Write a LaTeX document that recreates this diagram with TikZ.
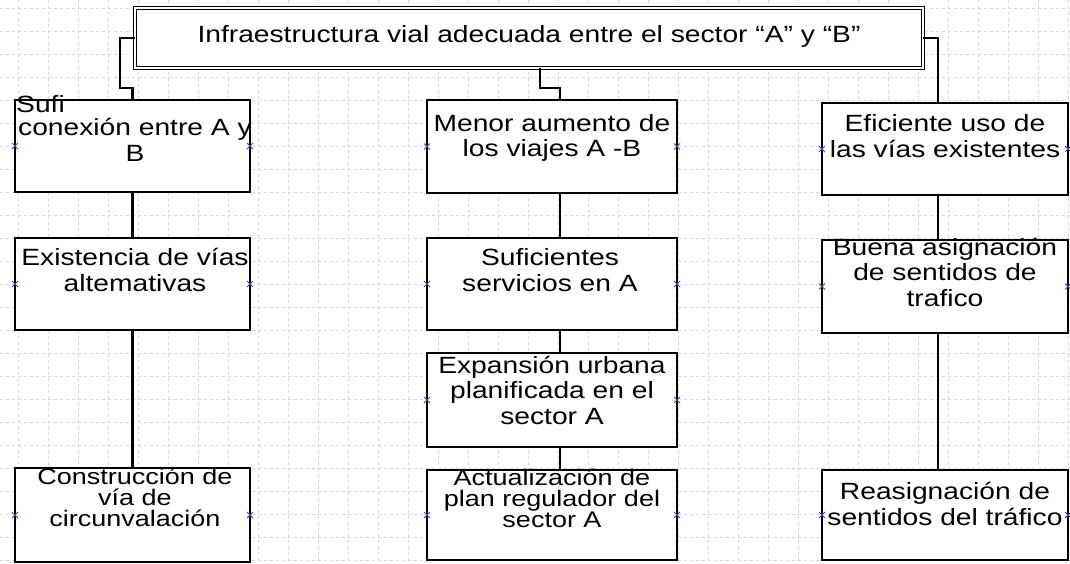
\documentclass[tikz,border=0pt]{standalone}
\usepackage{fontspec}
\setmainfont{Liberation Sans}[FakeStretch=1.2]
\usetikzlibrary{positioning}

\begin{document}
\begin{tikzpicture}[x = 1pt, y = -1pt,
        rejilla/.style = {gray!30, dashed, line width = 0.5pt},
        caja/.style = {draw, fill = white, line width = 2.4pt, inner sep = 0pt, outer sep = 0pt},
        titulo/.style = {caja, line width = 1.3pt, double, double distance = 1.8pt},
        txt/.style = {align = center, inner sep = 0pt, font = \fontsize{23.5}{25.5}\selectfont},
        apretado/.style = {txt, font = \fontsize{22.5}{21}\selectfont},
        enlace/.style = {line width = 2.2pt},
        punto/.style = {blue!45!gray, line width = 0.9pt}]
        \useasboundingbox (0, 0) rectangle (1070, 563);
        % grid of the page
        \foreach \gx in {18, 48, ..., 1068}
            \draw [rejilla] (\gx, 0) -- (\gx, 563);
        \foreach \gy in {8, 31, ..., 560}
            \draw [rejilla] (0, \gy) -- (1070, \gy);

        % boxes
        \node [titulo, minimum width = 788pt, minimum height = 60pt] (top) at (529, 38) {};
        \node [caja, minimum width = 235pt, minimum height = 92pt] (l1) at (132.5, 146) {};
        \node [caja, minimum width = 250pt, minimum height = 93pt] (m1) at (552, 146.5) {};
        \node [caja, minimum width = 246pt, minimum height = 92pt] (r1) at (945, 149) {};
        \node [caja, minimum width = 235pt, minimum height = 92pt] (l2) at (132.5, 284) {};
        \node [caja, minimum width = 250pt, minimum height = 92pt] (m2) at (552, 284) {};
        \node [caja, minimum width = 246pt, minimum height = 93pt] (r2) at (945, 286.5) {};
        \node [caja, minimum width = 250pt, minimum height = 94pt] (m3) at (552, 400) {};
        \node [caja, minimum width = 235pt, minimum height = 94pt] (l3) at (132.5, 515) {};
        \node [caja, minimum width = 250pt, minimum height = 90pt] (m4) at (552, 515) {};
        \node [caja, minimum width = 246pt, minimum height = 90pt] (r3) at (945, 515) {};

        % texts
        \node [txt] (ttop) at (529, 36) {Infraestructura vial adecuada entre el sector “A” y “B”};
        \node [txt, anchor = west] (tl1a) at (16, 104) {Sufi};
        \node [txt] (tl1) at (135, 140) {conexión entre A y\\B};
        \node [txt] (tm1) at (552, 138) {Menor aumento de\\los viajes A -B};
        \node [txt] (tr1) at (945, 136) {Eficiente uso de\\las vías existentes};
        \node [txt] (tl2) at (135, 270) {Existencia de vías\\altemativas};
        \node [txt] (tm2) at (550, 270) {Suficientes\\servicios en A};
        \node [txt] (tr2) at (945, 272) {Buena asignación\\de sentidos de\\trafico};
        \node [txt] (tm3) at (552, 390) {Expansión urbana\\planificada en el\\sector A};
        \node [apretado] (tl3) at (135, 497) {Construcción de\\vía de\\circunvalación};
        \node [apretado] (tm4) at (552, 498) {Actualización de\\plan regulador del\\sector A};
        \node [txt] (tr3) at (945, 504) {Reasignación de\\sentidos del tráfico};

        % connectors
        \draw [enlace] (top.west) -- ++(-15, 0) -- ++(0, 50) -| (l1.north);
        \draw [enlace] ([xshift = 11pt]top.south) -- ++(0, 20) -| ([xshift = 8pt]m1.north);
        \draw [enlace] (top.east) -| ([xshift = -7pt]r1.north);
        \draw [enlace] (l1) -- (l2);
        \draw [enlace] (l2) -- (l3);
        \draw [enlace] ([xshift = 8pt]m1.south) -- ([xshift = 8pt]m2.north);
        \draw [enlace] ([xshift = 8pt]m2.south) -- ([xshift = 8pt]m3.north);
        \draw [enlace] ([xshift = 8pt]m3.south) -- ([xshift = 8pt]m4.north);
        \draw [enlace] ([xshift = -7pt]r1.south) -- ([xshift = -7pt]r2.north);
        \draw [enlace] ([xshift = -7pt]r2.south) -- ([xshift = -7pt]r3.north);

        % connection points
        \foreach \b in {l1, m1, r1, l2, m2, r2, m3, l3, m4, r3} {
            \draw [punto] ([shift = {(-3, -3)}]\b.west) -- ++(6, 6) ([shift = {(-3, 3)}]\b.west) -- ++(6, -6);
            \draw [punto] ([shift = {(-3, -3)}]\b.east) -- ++(6, 6) ([shift = {(-3, 3)}]\b.east) -- ++(6, -6);
        }
\end{tikzpicture}
\end{document}
